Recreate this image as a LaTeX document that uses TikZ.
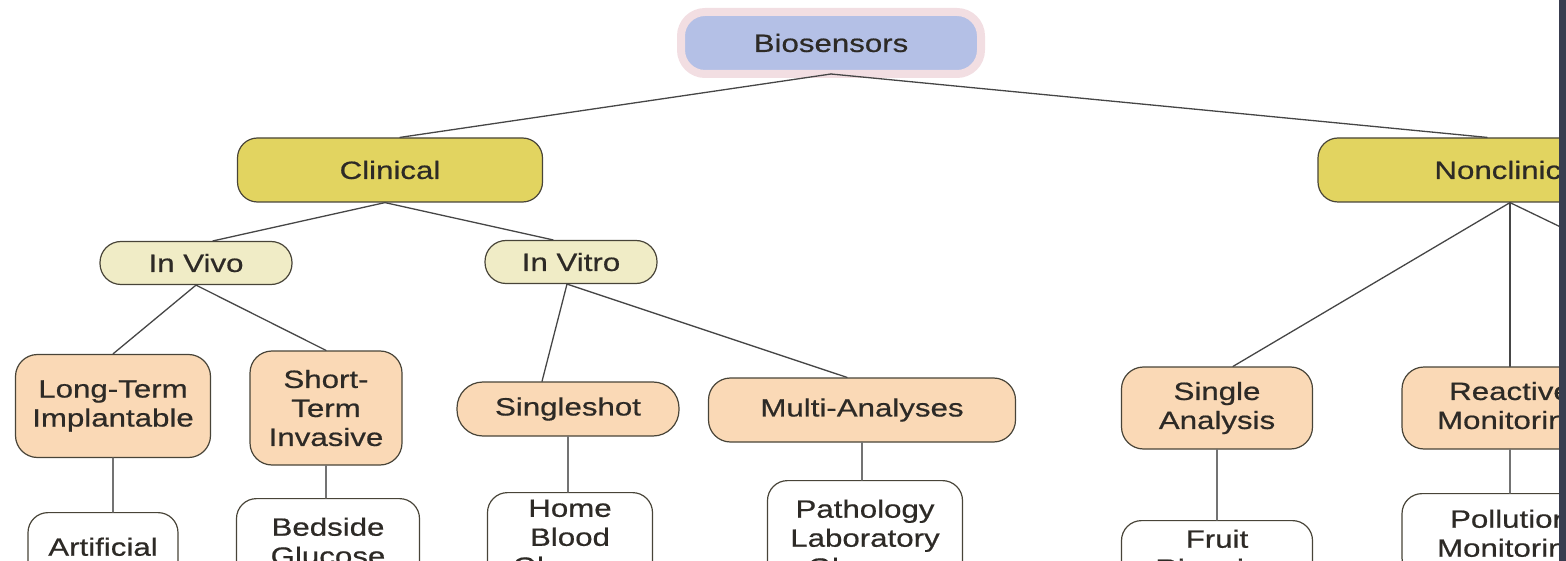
\documentclass[tikz,border=0pt]{standalone}
\usepackage{fontspec}
\setmainfont{Liberation Sans}[FakeStretch=1.25,FakeBold=0.6]
\definecolor{bioblue}{RGB}{180,192,230}
\definecolor{biopink}{RGB}{242,222,226}
\definecolor{clinyel}{RGB}{226,212,96}
\definecolor{vivoyel}{RGB}{240,236,198}
\definecolor{typeorg}{RGB}{250,217,182}
\definecolor{boxline}{RGB}{72,68,56}
\definecolor{edgegray}{RGB}{70,70,70}
\definecolor{dropgray}{RGB}{115,115,115}
\definecolor{inktext}{RGB}{45,42,38}
\definecolor{sidebar}{RGB}{57,61,79}
\begin{document}
\begin{tikzpicture}[x=1pt,y=-1pt,line join=round,line cap=round,
	font=\fontsize{25}{29}\selectfont,text=inktext,
	every node/.style={align=center,inner sep=0pt},
	root/.style={fill=bioblue,draw=biopink,line width=8pt,rounded corners=24pt},
	branch/.style={fill=clinyel,draw=boxline,line width=1.2pt,rounded corners=20pt,minimum height=64pt},
	sub/.style={fill=vivoyel,draw=boxline,line width=1.2pt,rounded corners=21pt,minimum height=43pt},
	kind/.style={fill=typeorg,draw=boxline,line width=1.2pt,rounded corners=22pt},
	leaf/.style={fill=white,draw=boxline,line width=1.2pt,rounded corners=20pt,anchor=north},
	link/.style={draw=edgegray,line width=1.3pt},
	drop/.style={draw=dropgray,line width=1.5pt}]
	\useasboundingbox (0,0) rectangle (1566,561);
	\clip (0,0) rectangle (1566,561);
	% top and clinical side
	\node[root,minimum width=300,minimum height=62] (bio) at (831,43) {Biosensors};
	\node[branch,minimum width=305] (clin) at (390,170) {Clinical};
	\node[branch,minimum width=384] (nonclin) at (1510,170) {Nonclinical};
	\node[sub,minimum width=192] (vivo) at (196,263) {In Vivo};
	\node[sub,minimum width=172] (vitro) at (571,262) {In Vitro};
	\node[kind,minimum width=195,minimum height=103] (longterm) at (113,406) {Long-Term\\Implantable};
	\node[kind,minimum width=152,minimum height=114] (shortterm) at (326,408) {Short-\\Term\\Invasive};
	\node[kind,minimum width=222,minimum height=54,rounded corners=26pt] (single) at (568,409) {Singleshot};
	\node[kind,minimum width=307,minimum height=64] (multi) at (862,410) {Multi-Analyses};
	% nonclinical side
	\node[kind,minimum width=191,minimum height=82] (singana) at (1217,408) {Single\\Analysis};
	\node[kind,minimum width=216,minimum height=82] (reactive) at (1510,408) {Reactive\\Monitoring};
	\coordinate (nonclin3) at (1851,367);
	% examples
	\node[leaf,minimum width=150,inner ysep=25pt] (artif) at (103,512) {Artificial};
	\node[leaf,minimum width=183,inner ysep=19pt] (bedside) at (328,498) {Bedside\\Glucose};
	\node[leaf,minimum width=165,inner ysep=7pt] (homeblood) at (570,492) {Home\\Blood\\Glucose};
	\node[leaf,minimum width=195,inner ysep=19pt] (patho) at (865,480) {Pathology\\Laboratory\\Glucose};
	\node[leaf,minimum width=191,inner ysep=9pt] (fruit) at (1217,520) {Fruit\\Ripening};
	\node[leaf,minimum width=216,inner ysep=16pt] (pollution) at (1510,493) {Pollution\\Monitoring};
	
	\draw[link] ([yshift=4]bio.south) -- ([xshift=10]clin.north);
	\draw[link] ([yshift=4]bio.south) -- ([xshift=-23]nonclin.north);
	\draw[link] ([xshift=-5]clin.south) -- ([xshift=17]vivo.north);
	\draw[link] ([xshift=-5]clin.south) -- ([xshift=-18]vitro.north);
	\draw[link] ([xshift=-4]vitro.south) -- ([xshift=-26]single.north);
	\draw[link] ([xshift=-4]vitro.south) -- ([xshift=-15]multi.north);
	\draw[link] (nonclin.south) -- ([xshift=16]singana.north);
	\foreach \a/\b in {vivo/longterm,vivo/shortterm,nonclin/reactive}
	\draw[link] (\a.south) -- (\b.north);
	\draw[link] (nonclin.south) -- (nonclin3);
	\foreach \a/\b in {longterm/artif,shortterm/bedside,single/homeblood,multi/patho,singana/fruit,reactive/pollution}
	\draw[drop] (\a.south) -- (\a.south |- \b.north);
	
	\fill[sidebar] (1559,0) rectangle (1566,561);
\end{tikzpicture}
\end{document}
